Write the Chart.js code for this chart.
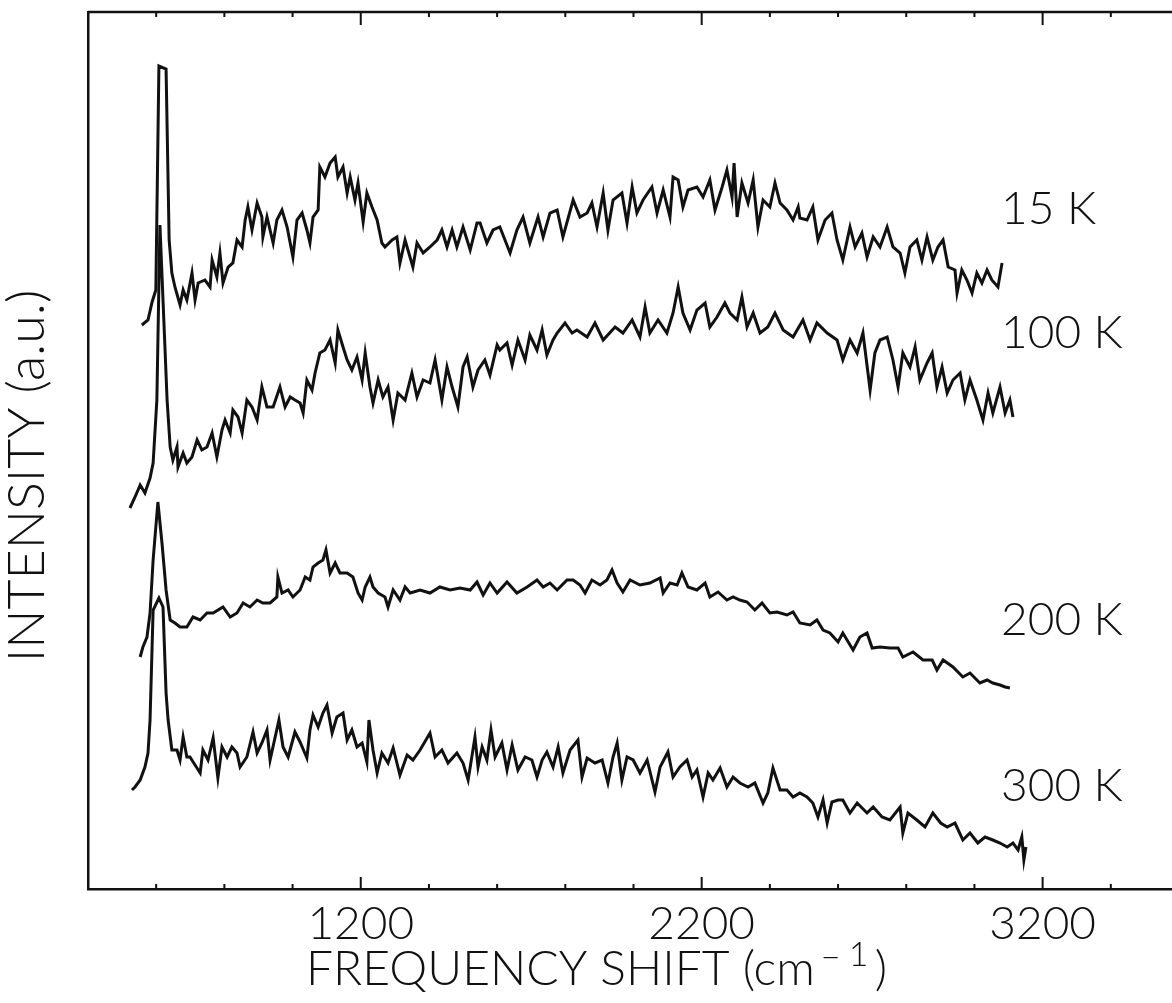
<!DOCTYPE html>
<html>
<head>
<meta charset="utf-8">
<script src="https://cdn.jsdelivr.net/npm/chart.js@4/dist/chart.umd.min.js"></script>
<style>
  html, body { margin: 0; padding: 0; background: #fff; overflow: hidden; }
  #wrap { width: 1190px; height: 1003px; }
</style>
</head>
<body>
<div id="wrap"><canvas id="ramanChart" width="1190" height="1003"></canvas></div>
<script>
// Raman spectra, [frequency shift (cm-1), intensity (a.u.)]
const spec15K = [
  [558,564],[576,569],[588,587],[599,599],[608,823],[629,820],[638,649],[646,616],[655,602],[670,584],
  [679,599],[690,589],[705,616],[714,589],[723,606],[743,609],[758,602],[764,629],[778,612],[787,636],
  [796,606],[811,622],[825,626],[837,649],[852,642],[861,669],[869,682],[881,659],[896,686],[910,672],
  [913,652],[925,672],[943,646],[954,669],[969,679],[984,662],[1001,632],[1013,669],[1028,676],[1042,659],
  [1051,646],[1060,672],[1075,679],[1080,722],[1095,712],[1110,726],[1125,732],[1133,712],[1148,722],[1160,696],
  [1169,712],[1183,689],[1192,706],[1207,667],[1218,696],[1233,682],[1248,669],[1262,646],[1271,642],[1292,649],
  [1306,652],[1315,626],[1330,649],[1353,622],[1365,646],[1383,636],[1403,642],[1424,649],[1438,659],[1453,642],
  [1468,659],[1482,642],[1500,662],[1521,639],[1541,666],[1550,666],[1570,646],[1588,659],[1608,662],[1638,636],
  [1658,659],[1676,672],[1696,646],[1720,672],[1735,652],[1755,676],[1776,679],[1793,652],[1823,689],[1843,672],
  [1864,676],[1878,686],[1893,662],[1911,696],[1925,659],[1940,689],[1966,696],[1981,666],[1996,702],[2010,676],
  [2028,689],[2054,702],[2069,676],[2087,699],[2107,672],[2116,712],[2131,709],[2145,682],[2160,699],[2186,702],
  [2204,692],[2224,709],[2239,679],[2260,702],[2274,719],[2289,692],[2295,726],[2304,672],[2318,706],[2336,686],
  [2351,709],[2365,662],[2380,689],[2400,682],[2415,706],[2430,686],[2450,679],[2468,669],[2483,682],[2488,671],
  [2509,669],[2526,682],[2541,649],[2562,669],[2582,676],[2597,649],[2614,629],[2635,662],[2650,642],[2670,656],
  [2685,632],[2703,652],[2723,642],[2744,662],[2761,642],[2782,636],[2796,616],[2811,642],[2831,649],[2846,629],
  [2861,652],[2878,629],[2893,642],[2908,649],[2923,622],[2943,619],[2949,596],[2963,619],[2978,609],[2993,596],
  [3007,616],[3022,606],[3037,619],[3051,609],[3069,602],[3081,626]
];

const spec100K = [
  [523,381],[538,392],[553,404],[567,396],[582,411],[591,426],[602,489],[611,664],[620,589],[632,489],
  [641,442],[649,429],[661,442],[664,422],[679,436],[690,426],[705,432],[720,449],[734,439],[749,442],
  [764,456],[778,432],[793,459],[802,469],[817,456],[825,479],[840,472],[852,456],[866,489],[881,482],
  [896,469],[910,502],[925,482],[943,482],[963,502],[978,482],[993,492],[1007,489],[1022,486],[1031,476],
  [1042,509],[1057,499],[1066,516],[1080,536],[1095,539],[1110,549],[1125,526],[1133,559],[1148,542],[1160,529],
  [1174,519],[1189,532],[1204,509],[1213,536],[1227,502],[1236,486],[1251,509],[1265,492],[1280,502],[1295,469],
  [1309,496],[1330,489],[1350,516],[1365,492],[1383,509],[1403,506],[1418,529],[1438,489],[1453,522],[1468,502],
  [1485,482],[1500,522],[1512,532],[1529,502],[1544,519],[1564,529],[1579,514],[1600,544],[1608,539],[1629,546],
  [1644,524],[1661,549],[1682,529],[1696,554],[1717,539],[1732,559],[1746,534],[1764,549],[1776,556],[1799,566],
  [1820,556],[1834,559],[1864,552],[1887,566],[1911,549],[1946,562],[1969,556],[1996,569],[2019,552],[2034,582],
  [2048,556],[2072,569],[2098,556],[2116,576],[2131,602],[2145,576],[2166,559],[2186,579],[2210,586],[2224,562],
  [2245,572],[2268,586],[2283,576],[2304,569],[2318,592],[2333,562],[2351,576],[2371,556],[2394,562],[2415,576],
  [2439,559],[2468,552],[2497,569],[2518,549],[2538,566],[2568,556],[2597,549],[2614,529],[2635,549],[2656,536],
  [2673,556],[2694,499],[2708,536],[2723,549],[2744,552],[2761,529],[2776,502],[2790,536],[2811,522],[2826,542],
  [2840,509],[2861,526],[2876,536],[2890,502],[2905,522],[2920,496],[2937,509],[2958,516],[2972,489],[2987,509],
  [3007,489],[3025,469],[3040,496],[3054,476],[3075,502],[3090,476],[3104,489],[3113,472]
];

const spec200K = [
  [553,232],[561,242],[573,252],[582,276],[591,329],[605,387],[617,346],[629,299],[641,269],[655,266],
  [670,262],[690,262],[708,272],[729,269],[749,276],[767,276],[796,282],[817,272],[837,276],[855,286],
  [875,282],[896,289],[913,286],[934,286],[954,292],[957,312],[969,296],[987,299],[1001,292],[1022,299],
  [1037,312],[1051,309],[1060,322],[1075,326],[1089,329],[1098,339],[1110,316],[1125,326],[1139,316],[1160,316],
  [1177,312],[1192,296],[1204,289],[1213,302],[1227,312],[1236,302],[1251,296],[1271,292],[1280,282],[1295,299],
  [1315,289],[1330,302],[1345,296],[1374,299],[1403,296],[1432,302],[1462,299],[1491,301],[1521,299],[1541,307],
  [1559,294],[1579,306],[1600,296],[1629,307],[1658,296],[1688,302],[1717,309],[1735,302],[1755,306],[1776,299],
  [1805,309],[1823,309],[1843,304],[1858,296],[1878,309],[1902,304],[1922,309],[1937,319],[1952,306],[1969,297],
  [1990,309],[2019,304],[2048,306],[2078,311],[2087,296],[2107,306],[2128,304],[2142,316],[2160,302],[2186,299],
  [2210,306],[2224,292],[2248,297],[2274,289],[2292,292],[2312,289],[2333,287],[2356,279],[2377,286],[2400,276],
  [2421,277],[2450,274],[2468,277],[2488,266],[2518,264],[2538,269],[2556,259],[2576,256],[2600,247],[2614,256],
  [2644,239],[2664,252],[2685,256],[2700,241],[2723,242],[2752,241],[2776,241],[2790,232],[2820,237],[2849,229],
  [2876,229],[2890,219],[2908,229],[2937,222],[2966,212],[2987,216],[3016,206],[3037,209],[3054,206],[3075,204],
  [3090,202],[3104,201]
];

const spec300K = [
  [529,99],[538,102],[553,109],[567,122],[576,136],[582,169],[591,279],[608,291],[620,282],[629,196],
  [635,169],[646,139],[661,139],[670,129],[679,152],[690,132],[699,132],[714,124],[729,116],[737,139],
  [752,129],[767,151],[781,111],[793,142],[808,132],[822,142],[837,136],[846,122],[866,132],[884,157],
  [896,136],[910,146],[925,159],[934,129],[949,152],[960,169],[972,142],[987,132],[1007,157],[1022,147],
  [1042,131],[1051,159],[1060,174],[1075,162],[1089,176],[1101,184],[1116,156],[1130,172],[1148,176],[1160,149],
  [1174,159],[1189,142],[1204,146],[1218,127],[1224,169],[1236,139],[1248,116],[1262,136],[1280,126],[1295,141],
  [1315,114],[1336,134],[1353,129],[1374,139],[1403,156],[1418,132],[1438,139],[1456,126],[1482,136],[1500,126],
  [1515,109],[1535,152],[1544,122],[1556,142],[1570,129],[1582,159],[1594,132],[1614,146],[1629,119],[1644,144],
  [1661,119],[1682,132],[1702,129],[1717,112],[1732,129],[1746,137],[1764,122],[1779,142],[1793,116],[1814,139],
  [1837,149],[1849,112],[1864,131],[1887,126],[1908,129],[1925,106],[1940,132],[1952,146],[1966,109],[1981,132],
  [1999,129],[2019,116],[2040,129],[2063,97],[2078,122],[2101,137],[2116,112],[2136,122],[2157,129],[2172,112],
  [2186,119],[2204,92],[2219,116],[2233,109],[2254,121],[2274,102],[2292,112],[2312,106],[2336,102],[2356,106],
  [2380,86],[2394,96],[2409,121],[2430,99],[2450,99],[2468,92],[2488,96],[2509,92],[2526,86],[2541,72],
  [2556,89],[2568,66],[2582,87],[2600,89],[2614,89],[2635,76],[2656,86],[2685,76],[2703,82],[2729,72],
  [2752,69],[2782,82],[2790,56],[2805,76],[2831,69],[2855,62],[2878,76],[2901,66],[2920,62],[2943,66],
  [2966,49],[2987,56],[3010,46],[3031,52],[3054,49],[3075,46],[3096,42],[3113,46],[3128,39],[3139,52],
  [3145,29],[3151,42]
];

const tempLabels = ["15 K", "100 K", "200 K", "300 K"];
const tempLabelLevels = [680, 556, 269, 103];
const tempLabelShift = 3078;
const majorTicks = [1200, 2200, 3200];

const FONT = 'Lato, "Liberation Sans", Arial, sans-serif';
const WEIGHT = "300";
const INK = "#111";

function makeDataset(inputlabel, points) {
  return {
    label: inputlabel,
    data: points.map(p => ({ x: p[0], y: p[1] })),
    borderColor: INK,
    borderWidth: 3,
    borderJoinStyle: "miter",
    pointRadius: 0,
    tension: 0,
    fill: false,
  };
}

// top border, inward tick marks, curve labels and axis titles
const framePlugin = {
  id: "frame",
  afterDraw(chart) {
    const { ctx, chartArea, scales } = chart;
    const xs = scales.x, ys = scales.y;
    ctx.save();
    ctx.strokeStyle = INK;
    ctx.lineWidth = 2.5;
    ctx.beginPath();
    ctx.moveTo(chartArea.left, chartArea.top);
    ctx.lineTo(chartArea.right, chartArea.top);
    ctx.stroke();

    ctx.lineWidth = 2;
    ctx.beginPath();
    xs.ticks.forEach(t => {
      const px = xs.getPixelForValue(t.value);
      if (px <= chartArea.left + 2) return;
      const major = majorTicks.includes(t.value);
      ctx.moveTo(px, chartArea.bottom);
      ctx.lineTo(px, chartArea.bottom - (major ? 12 : 5));
      ctx.moveTo(px, chartArea.top);
      ctx.lineTo(px, chartArea.top + (major ? 13 : 5));
    });
    ctx.stroke();

    ctx.fillStyle = INK;
    ctx.font = WEIGHT + " 46px " + FONT;
    ctx.textBaseline = "middle";
    ctx.textAlign = "left";
    tempLabels.forEach((txt, i) => {
      ctx.fillText(txt, xs.getPixelForValue(tempLabelShift), ys.getPixelForValue(tempLabelLevels[i]));
    });

    // x title with superscript
    ctx.font = WEIGHT + " 48px " + FONT;
    ctx.textBaseline = "alphabetic";
    const main = "FREQUENCY SHIFT (cm";
    const x0 = 306, base = 985;
    ctx.fillText(main, x0, base);
    const w = ctx.measureText(main).width;
    ctx.fillText(")", x0 + w + 60, base);
    ctx.font = WEIGHT + " 34px " + FONT;
    ctx.fillText("\u2212", x0 + w + 6, base - 16);
    ctx.fillText("1", x0 + w + 34, base - 19);

    // y title
    ctx.font = WEIGHT + " 52px " + FONT;
    ctx.translate(27, 476);
    ctx.rotate(-Math.PI / 2);
    ctx.textAlign = "center";
    ctx.textBaseline = "middle";
    ctx.fillText("INTENSITY (a.u.)", 0, 0);
    ctx.restore();
  },
};

const ramanChartConfig = {
  type: "line",
  data: {
    datasets: [
      makeDataset("15 K", spec15K),
      makeDataset("100 K", spec100K),
      makeDataset("200 K", spec200K),
      makeDataset("300 K", spec300K),
    ],
  },
  options: {
    responsive: false,
    animation: false,
    devicePixelRatio: 1,
    layout: { padding: { top: 12, right: 11, left: 0, bottom: 0 } },
    plugins: {
      legend: { display: false },
      tooltip: { enabled: false },
    },
    scales: {
      x: {
        type: "linear",
        min: 400,
        max: 3600,
        afterFit: s => { s.height = 114; },
        grid: { display: false, drawTicks: false },
        border: { display: true, color: INK, width: 2.5 },
        ticks: {
          stepSize: 200,
          autoSkip: false,
          maxRotation: 0,
          padding: 8,
          color: INK,
          font: { family: FONT, size: 46, weight: WEIGHT },
          callback: v => (majorTicks.includes(v) ? String(v) : ""),
        },
      },
      y: {
        min: 0,
        max: 877,
        afterFit: s => { s.width = 88; },
        grid: { display: false, drawTicks: false },
        border: { display: true, color: INK, width: 2.5 },
        ticks: { display: false },
      },
    },
  },
  plugins: [framePlugin],
};

const ramanChart = new Chart(document.getElementById("ramanChart"), ramanChartConfig);
</script>
</body>
</html>
